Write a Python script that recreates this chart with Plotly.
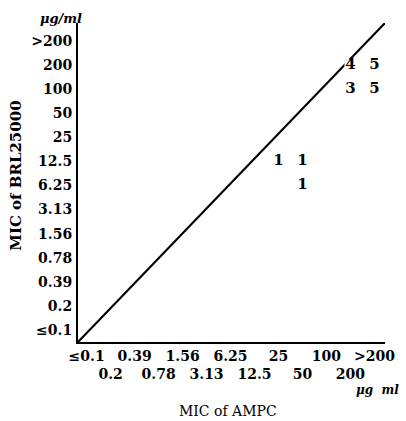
import plotly.graph_objects as go

# Category labels (MIC values, µg/ml)
x_labels = ["≤0.1", "0.2", "0.39", "0.78", "1.56", "3.13", "6.25", "12.5", "25", "50", "100", "200", ">200"]
y_labels = ["≤0.1", "0.2", "0.39", "0.78", "1.56", "3.13", "6.25", "12.5", "25", "50", "100", "200", ">200"]

# Counts of strains at each (AMPC MIC, BRL25000 MIC)
pt_x = ["25", "50", "50", "200", ">200", "200", ">200"]
pt_y = ["12.5", "12.5", "6.25", "100", "100", "200", "200"]
pt_n = [1, 1, 1, 3, 5, 4, 5]

FONT = "DejaVu Serif"

xi = [x_labels.index(v) for v in pt_x]
yi = [y_labels.index(v) for v in pt_y]

x_range = [-0.36, 12.44]
y_range = [-0.5, 12.75]

# staggered x tick labels: odd ones on a second line
x_ticktext = [lab if i % 2 == 0 else "<br>" + lab for i, lab in enumerate(x_labels)]

fig = go.Figure()

# diagonal line of equality (corner to corner)
fig.add_trace(go.Scatter(
    x=[x_range[0], x_range[1]], y=[y_range[0], y_range[1]],
    mode="lines", line=dict(color="black", width=2.2),
    hoverinfo="skip", showlegend=False,
))

fig.add_trace(go.Scatter(
    x=xi, y=yi, mode="markers+text",
    text=[str(n) for n in pt_n], textposition="middle center",
    marker=dict(symbol="square", size=12, color="white"),
    textfont=dict(family=FONT, size=15, color="black", weight="bold"),
    showlegend=False,
))

fig.update_layout(
    width=406, height=421,
    margin=dict(l=78, r=11, t=23, b=79),
    paper_bgcolor="white", plot_bgcolor="white",
    font=dict(family=FONT, color="black"),
    xaxis=dict(
        range=x_range, tickmode="array", tickvals=list(range(len(x_labels))),
        ticktext=x_ticktext, showgrid=False, zeroline=False, tickangle=0,
        showline=True, linecolor="black", linewidth=2, ticks="",
        tickfont=dict(family=FONT, size=14, weight="bold"),
        ticklabelstandoff=0,
    ),
    yaxis=dict(
        range=y_range, tickmode="array", tickvals=list(range(len(y_labels))),
        ticktext=y_labels, showgrid=False, zeroline=False,
        showline=True, linecolor="black", linewidth=2, ticks="",
        tickfont=dict(family=FONT, size=14, weight="bold"),
        ticklabelstandoff=1,
    ),
    annotations=[
        dict(text="MIC of BRL25000", xref="paper", yref="paper", x=-0.20, y=0.52,
             textangle=-90, showarrow=False, xanchor="center", yanchor="middle",
             font=dict(family=FONT, size=15, weight="bold")),
        dict(text="MIC of AMPC", xref="paper", yref="paper", x=0.49, y=-0.215,
             showarrow=False, xanchor="center", yanchor="middle",
             font=dict(family=FONT, size=14)),
        dict(text="<i>μg/ml</i>", xref="paper", yref="paper", x=-0.055, y=1.013,
             showarrow=False, xanchor="center", yanchor="middle",
             font=dict(family=FONT, size=13, weight="bold")),
        dict(text="<i>μg  ml</i>", xref="paper", yref="paper", x=0.975, y=-0.15,
             showarrow=False, xanchor="center", yanchor="middle",
             font=dict(family=FONT, size=12, weight="bold")),
    ],
)

fig.write_html("out.html")
